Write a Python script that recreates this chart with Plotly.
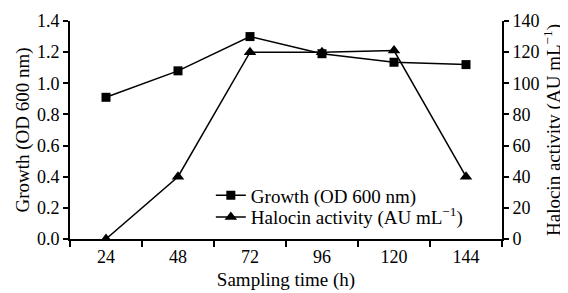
import plotly.graph_objects as go

sampling_time = [24, 48, 72, 96, 120, 144]
growth_od600 = [0.91, 1.08, 1.30, 1.19, 1.135, 1.12]
halocin_activity = [0, 40, 120, 120, 121, 40]
x_tick_labels = ["24", "48", "72", "96", "120", "144"]
x_boundaries = [12, 36, 60, 84, 108, 132, 156]

FONT = "Liberation Serif"

fig = go.Figure()
fig.add_trace(go.Scatter(
    x=sampling_time, y=growth_od600, name="Growth (OD 600 nm)",
    mode="lines+markers", line=dict(color="black", width=1.5),
    marker=dict(symbol="square", size=9, color="black"), yaxis="y",
    legend="legend"))
fig.add_trace(go.Scatter(
    x=sampling_time, y=halocin_activity, name="Halocin activity (AU mL<sup>\u22121</sup>)",
    mode="lines+markers", line=dict(color="black", width=1.5),
    marker=dict(symbol="triangle-up", size=11, color="black"), yaxis="y2",
    legend="legend2"))

leg_common = dict(xanchor="left", yanchor="middle", bgcolor="rgba(0,0,0,0)",
                  font=dict(size=19, family=FONT), itemwidth=30)

fig.update_layout(
    width=560, height=285,
    margin=dict(l=62, r=66, t=13, b=54, autoexpand=False),
    paper_bgcolor="white", plot_bgcolor="white",
    font=dict(family=FONT, size=18, color="black"),
    showlegend=True,
    legend=dict(x=0.326, y=0.20, **leg_common),
    legend2=dict(x=0.326, y=0.10, **leg_common),
    xaxis=dict(range=[12, 156], tickvals=sampling_time, ticktext=x_tick_labels,
               ticks="",
               showline=True, linecolor="black", linewidth=2,
               showgrid=False, zeroline=False, automargin=False,
               tickfont=dict(size=18),
               title=dict(text="Sampling time (h)", font=dict(size=19), standoff=7),
               minor=dict(tickvals=x_boundaries, ticks="outside",
                          ticklen=6, tickwidth=2, tickcolor="black", showgrid=False)),
    yaxis=dict(range=[0, 1.4], tickvals=[0, 0.2, 0.4, 0.6, 0.8, 1.0, 1.2, 1.4],
               ticktext=["0.0", "0.2", "0.4", "0.6", "0.8", "1.0", "1.2", "1.4"],
               ticks="outside", ticklen=5, tickwidth=2, tickcolor="black",
               showline=True, linecolor="black", linewidth=2,
               showgrid=False, zeroline=False, automargin=False,
               tickfont=dict(size=18),
               title=dict(text="Growth (OD 600 nm)", font=dict(size=19), standoff=2)),
    yaxis2=dict(range=[0, 140], tickvals=[0, 20, 40, 60, 80, 100, 120, 140],
                overlaying="y", side="right",
                ticks="outside", ticklen=5, tickwidth=2, tickcolor="black",
                showline=True, linecolor="black", linewidth=2,
                showgrid=False, zeroline=False, automargin=False,
                tickfont=dict(size=18),
                title=dict(text="Halocin activity (AU mL<sup>\u22121</sup>)", font=dict(size=19), standoff=7)),
)

fig.write_html("out.html")
